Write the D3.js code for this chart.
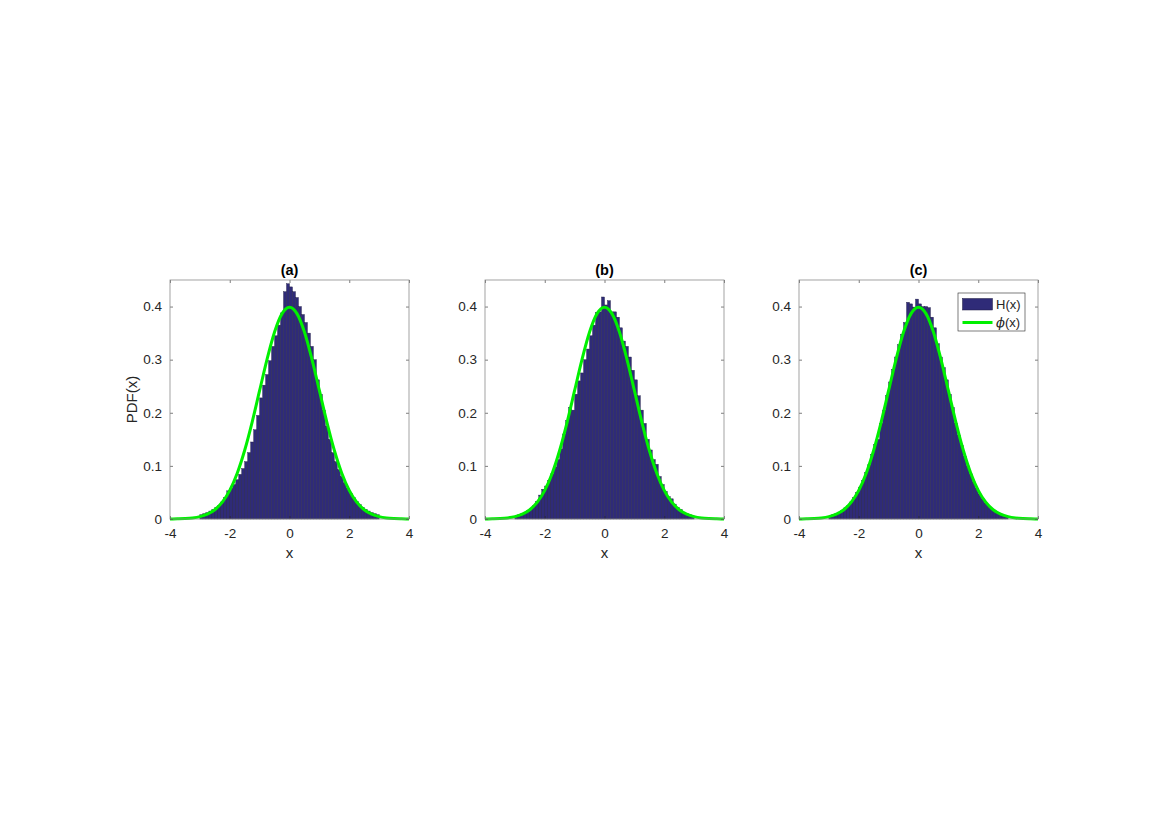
<!DOCTYPE html>
<html>
<head>
<meta charset="utf-8">
<script src="https://cdn.jsdelivr.net/npm/d3@7"></script>
<style>
  body { margin: 0; background: #fff; }
  text { font-family: "Liberation Sans", Arial, sans-serif; fill: #262626; }
</style>
</head>
<body>
<div id="chart"></div>
<script>
// histogram bin edges (width 0.1)
var binEdges = [-3.0, -2.9, -2.8, -2.7, -2.6, -2.5, -2.4, -2.3, -2.2, -2.1,
  -2.0, -1.9, -1.8, -1.7, -1.6, -1.5, -1.4, -1.3, -1.2, -1.1,
  -1.0, -0.9, -0.8, -0.7, -0.6, -0.5, -0.4, -0.3, -0.2, -0.1,
  0.0, 0.1, 0.2, 0.3, 0.4, 0.5, 0.6, 0.7, 0.8, 0.9,
  1.0, 1.1, 1.2, 1.3, 1.4, 1.5, 1.6, 1.7, 1.8, 1.9,
  2.0, 2.1, 2.2, 2.3, 2.4, 2.5, 2.6, 2.7, 2.8, 2.9, 3.0];

// H(x), one value per bin
var histA = [0.008, 0.010, 0.012, 0.015, 0.018, 0.022, 0.026, 0.032, 0.040, 0.053,
  0.058, 0.065, 0.074, 0.084, 0.095, 0.108, 0.125, 0.145, 0.168, 0.195,
  0.228, 0.252, 0.272, 0.298, 0.325, 0.345, 0.365, 0.388, 0.428, 0.443,
  0.437, 0.428, 0.417, 0.400, 0.385, 0.370, 0.350, 0.325, 0.300, 0.262,
  0.235, 0.205, 0.175, 0.150, 0.125, 0.108, 0.093, 0.080, 0.068, 0.058,
  0.048, 0.040, 0.033, 0.027, 0.022, 0.018, 0.015, 0.012, 0.010, 0.008];

var histB = [0.005, 0.008, 0.011, 0.013, 0.016, 0.020, 0.026, 0.033, 0.045, 0.056,
  0.062, 0.072, 0.085, 0.098, 0.112, 0.132, 0.160, 0.185, 0.210, 0.205,
  0.235, 0.260, 0.275, 0.300, 0.320, 0.345, 0.365, 0.389, 0.390, 0.418,
  0.403, 0.411, 0.390, 0.390, 0.380, 0.360, 0.335, 0.325, 0.305, 0.280,
  0.262, 0.232, 0.205, 0.180, 0.150, 0.130, 0.112, 0.103, 0.080, 0.065,
  0.052, 0.042, 0.038, 0.028, 0.022, 0.018, 0.013, 0.010, 0.008, 0.006];

var histC = [0.005, 0.009, 0.010, 0.013, 0.016, 0.021, 0.025, 0.032, 0.040, 0.050,
  0.060, 0.073, 0.087, 0.102, 0.122, 0.140, 0.150, 0.180, 0.205, 0.232,
  0.258, 0.282, 0.305, 0.328, 0.348, 0.370, 0.408, 0.405, 0.399, 0.414,
  0.405, 0.400, 0.400, 0.398, 0.380, 0.360, 0.330, 0.305, 0.285, 0.262,
  0.235, 0.210, 0.180, 0.158, 0.138, 0.118, 0.100, 0.085, 0.070, 0.058,
  0.047, 0.038, 0.030, 0.024, 0.018, 0.014, 0.011, 0.008, 0.006, 0.004];

// phi(x) read at 0.25 steps
var curveX = [-4, -3.75, -3.5, -3.25, -3, -2.75, -2.5, -2.25, -2, -1.75, -1.5, -1.25, -1, -0.75, -0.5, -0.25,
  0, 0.25, 0.5, 0.75, 1, 1.25, 1.5, 1.75, 2, 2.25, 2.5, 2.75, 3, 3.25, 3.5, 3.75, 4];
var curveY = [0.0001, 0.0004, 0.0009, 0.0020, 0.0044, 0.0091, 0.0175, 0.0317, 0.0540, 0.0863, 0.1295, 0.1826, 0.2420, 0.3011, 0.3521, 0.3867,
  0.3989, 0.3867, 0.3521, 0.3011, 0.2420, 0.1826, 0.1295, 0.0863, 0.0540, 0.0317, 0.0175, 0.0091, 0.0044, 0.0020, 0.0009, 0.0004, 0.0001];

var xTicks = [-4, -2, 0, 2, 4];
var yTicks = [0, 0.1, 0.2, 0.3, 0.4];
var panelTitles = ["(a)", "(b)", "(c)"];
var panelData = [histA, histB, histC];

var barColor = "#2f2b78";
var lineColor = "#00f000";

var size = 239;
var panelLeft = [170, 485, 799];
var panelTop = 280;

var svg = d3.select("#chart")
  .append("svg")
    .attr("width", 1170)
    .attr("height", 827);

var bins = d3.range(binEdges.length - 1).map(function(i) {
  return {x0: binEdges[i], x1: binEdges[i + 1]};
});

panelData.forEach(function(hist, p) {
  var g = svg.append("g")
    .attr("transform", "translate(" + panelLeft[p] + "," + panelTop + ")");

  var x = d3.scaleLinear().domain([-4, 4]).range([0, size]);
  var y = d3.scaleLinear().domain([0, 0.45]).range([size, 0]);

  // bars
  g.selectAll("rect.bar")
    .data(bins)
    .enter()
    .append("rect")
      .attr("class", "bar")
      .attr("x", function(d) { return x(d.x0); })
      .attr("y", function(d, i) { return y(hist[i]); })
      .attr("width", function(d) { return x(d.x1) - x(d.x0); })
      .attr("height", function(d, i) { return size - y(hist[i]); })
      .attr("fill", barColor)
      .attr("stroke", "#1c1a40")
      .attr("stroke-width", 0.4);

  // phi(x)
  var pts = curveX.map(function(v, i) { return [v, curveY[i]]; });
  g.append("path")
    .datum(pts)
    .attr("d", d3.line()
      .x(function(d) { return x(d[0]); })
      .y(function(d) { return y(d[1]); })
      .curve(d3.curveMonotoneX))
    .attr("fill", "none")
    .attr("stroke", lineColor)
    .attr("stroke-width", 3);

  // axes, ticks inside on all four sides
  var axB = g.append("g").attr("transform", "translate(0," + size + ")")
    .call(d3.axisBottom(x).tickValues(xTicks).tickSize(-3).tickPadding(9)
      .tickFormat(function(d) { return String(d); }));
  var axT = g.append("g")
    .call(d3.axisTop(x).tickValues(xTicks).tickSize(-3).tickFormat(""));
  var axL = g.append("g")
    .call(d3.axisLeft(y).tickValues(yTicks).tickSize(-3).tickPadding(8)
      .tickFormat(function(d) { return d === 0 ? "0" : d.toFixed(1); }));
  var axR = g.append("g").attr("transform", "translate(" + size + ",0)")
    .call(d3.axisRight(y).tickValues(yTicks).tickSize(-3).tickFormat(""));

  [axB, axT, axL, axR].forEach(function(a) {
    a.select(".domain").remove();
    a.selectAll(".tick line").attr("stroke", "#262626").attr("stroke-width", 0.6);
    a.selectAll(".tick text").style("font-size", "13.5px").attr("fill", "#262626");
  });

  g.append("rect")
    .attr("width", size)
    .attr("height", size)
    .attr("fill", "none")
    .attr("stroke", "#8c8c8c")
    .attr("stroke-width", 0.8);

  // title and labels
  g.append("text")
    .attr("x", size / 2)
    .attr("y", -5)
    .attr("text-anchor", "middle")
    .style("font-size", "14.5px")
    .style("font-weight", "bold")
    .style("fill", "#000")
    .text(panelTitles[p]);

  g.append("text")
    .attr("x", size / 2)
    .attr("y", size + 39)
    .attr("text-anchor", "middle")
    .style("font-size", "15px")
    .text("x");

  if (p === 0) {
    g.append("text")
      .attr("transform", "rotate(-90)")
      .attr("x", -size / 2)
      .attr("y", -33)
      .attr("text-anchor", "middle")
      .style("font-size", "15px")
      .text("PDF(x)");
  }

  // legend on last panel
  if (p === 2) {
    var lg = g.append("g").attr("transform", "translate(" + (958 - 799) + "," + (293 - 280) + ")");
    lg.append("rect")
      .attr("width", 67).attr("height", 38)
      .attr("fill", "#fff")
      .attr("stroke", "#262626")
      .attr("stroke-width", 0.6);
    lg.append("rect")
      .attr("x", 4.5).attr("y", 5.5)
      .attr("width", 30).attr("height", 11.5)
      .attr("fill", barColor)
      .attr("stroke", "#1c1a40")
      .attr("stroke-width", 0.5);
    lg.append("text")
      .attr("x", 38).attr("y", 16)
      .style("font-size", "13px")
      .text("H(x)");
    lg.append("line")
      .attr("x1", 4.5).attr("x2", 34.5)
      .attr("y1", 29.5).attr("y2", 29.5)
      .attr("stroke", lineColor)
      .attr("stroke-width", 3);
    var t = lg.append("text")
      .attr("x", 38).attr("y", 34)
      .style("font-size", "13px");
    t.append("tspan").style("font-style", "italic").style("font-family", "'DejaVu Serif', serif").text("\u03d5");
    t.append("tspan").text("(x)");
  }
});
</script>
</body>
</html>
